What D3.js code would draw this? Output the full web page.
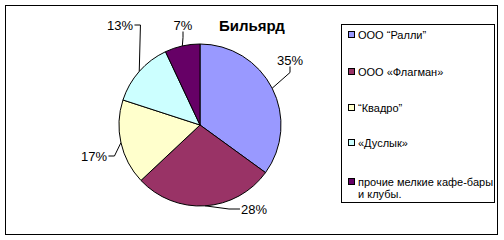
<!DOCTYPE html>
<html>
<head>
<meta charset="UTF-8">
<title>Бильярд</title>
<script src="https://cdn.jsdelivr.net/npm/d3@7"></script>
<style>
  body { margin: 0; background: #fff; }
  text { font-family: "Liberation Sans", Arial, sans-serif; }
</style>
</head>
<body>
<script>
const categories = ['ООО “Ралли”', 'ООО «Флагман»', '“Квадро”', '«Дуслык»', 'прочие мелкие кафе-бары и клубы.'];
const values = [35, 28, 17, 13, 7];
const colors = ['#9999FF', '#993366', '#FFFFCC', '#CCFFFF', '#660066'];
const title = 'Бильярд';

const width = 504, height = 240;
const cx = 200, cy = 125, radius = 81;

// where Excel put each percent label (text centre) and which side its leader leaves from
const labelLayout = [
  { x: 290, y: 60, side: 'bottom' },
  { x: 254, y: 209, side: 'left' },
  { x: 94, y: 156, side: 'right' },
  { x: 120, y: 25, side: 'right' },
  { x: 183, y: 25, side: 'bottom' }
];

const svg = d3.select('body').append('svg')
  .attr('width', width)
  .attr('height', height);

// outer frame
svg.append('rect')
  .attr('x', 5.5).attr('y', 5.5)
  .attr('width', 492).attr('height', 229)
  .attr('fill', '#fff').attr('stroke', '#000');

svg.append('text')
  .attr('x', 252).attr('y', 31)
  .attr('text-anchor', 'middle')
  .attr('font-size', 15).attr('font-weight', 'bold')
  .text(title);

const pie = d3.pie().sort(null).value(d => d);
const arcs = pie(values);
const arc = d3.arc().innerRadius(0).outerRadius(radius);

const g = svg.append('g').attr('transform', `translate(${cx},${cy})`);
g.selectAll('path')
  .data(arcs)
  .join('path')
  .attr('d', arc)
  .attr('fill', (d, i) => colors[i])
  .attr('stroke', '#000')
  .attr('stroke-width', 1);

const total = d3.sum(values);
const fmt = v => Math.round(v / total * 100) + '%';

// labels + leader lines
arcs.forEach((d, i) => {
  const lay = labelLayout[i];
  const mid = (d.startAngle + d.endAngle) / 2;
  const px = cx + radius * Math.sin(mid);
  const py = cy - radius * Math.cos(mid);

  const t = svg.append('text')
    .attr('x', lay.x).attr('y', lay.y)
    .attr('text-anchor', 'middle')
    .attr('dominant-baseline', 'central')
    .attr('font-size', 13)
    .text(fmt(d.value));
  const bb = t.node().getBBox();

  let ax, ay, ex, ey;
  if (lay.side === 'bottom') {
    ax = lay.x; ay = bb.y + bb.height - 1; ex = ax; ey = ay + 6;
  } else if (lay.side === 'left') {
    ax = bb.x - 1; ay = lay.y; ex = ax - 11; ey = ay;
  } else {
    ax = bb.x + bb.width + 1; ay = lay.y; ex = ax + 6; ey = ay;
  }
  svg.append('path')
    .attr('d', d3.line()([[ax, ay], [ex, ey], [px, py]]))
    .attr('fill', 'none')
    .attr('stroke', '#000')
    .attr('stroke-width', 1);
});

// legend
const legend = svg.append('g');
legend.append('rect')
  .attr('x', 341.5).attr('y', 24.5)
  .attr('width', 153).attr('height', 178)
  .attr('fill', '#fff').attr('stroke', '#000');

const rowY = [35, 71.5, 107.5, 143, 182];
categories.forEach((c, i) => {
  const y = rowY[i];
  legend.append('rect')
    .attr('x', 348.5).attr('y', Math.round(y) - 3.5)
    .attr('width', 6).attr('height', 6)
    .attr('fill', colors[i]).attr('stroke', '#000');
  const lines = i === 4 ? ['прочие мелкие кафе-бары', 'и клубы.'] : [c];
  lines.forEach((ln, j) => {
    legend.append('text')
      .attr('x', 358).attr('y', y + j * 12)
      .attr('dominant-baseline', 'central')
      .attr('font-size', 11)
      .text(ln);
  });
});
</script>
</body>
</html>
